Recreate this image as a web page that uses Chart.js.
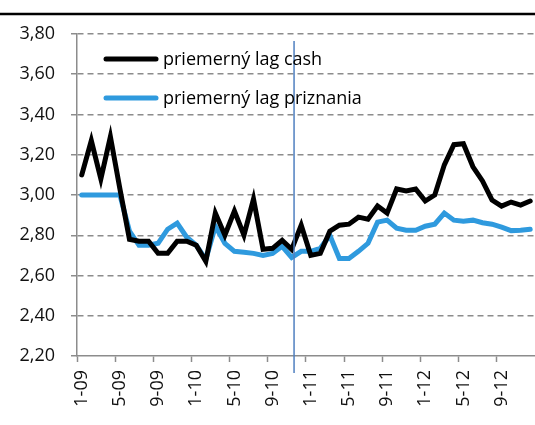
<!DOCTYPE html>
<html>
<head>
<meta charset="utf-8">
<script src="https://cdn.jsdelivr.net/npm/chart.js@4.4.1/dist/chart.umd.min.js"></script>
<style>
  html, body { margin: 0; padding: 0; background: #fff; overflow: hidden; }
  #wrap { width: 535px; height: 425px; overflow: hidden; }
</style>
</head>
<body>
<div id="wrap"><canvas id="lagChart" width="560" height="425"></canvas></div>
<script>
// months 1-09 .. 12-12
const months = [];
for (let y = 9; y <= 12; y++) {
    for (let m = 1; m <= 12; m++) months.push(m + '-' + String(y).padStart(2, '0'));
}

const lagCash = [
    3.10, 3.27, 3.08, 3.29, 3.03, 2.78, 2.77, 2.77, 2.71, 2.71,
    2.77, 2.77, 2.75, 2.67, 2.91, 2.80, 2.92, 2.80, 2.98, 2.73,
    2.735, 2.775, 2.73, 2.85, 2.70, 2.71, 2.82, 2.85, 2.855, 2.89,
    2.88, 2.945, 2.91, 3.03, 3.02, 3.03, 2.97, 3.00, 3.15, 3.25,
    3.255, 3.14, 3.07, 2.975, 2.945, 2.965, 2.95, 2.97
];

const lagPriznania = [
    3.00, 3.00, 3.00, 3.00, 3.00, 2.82, 2.75, 2.75, 2.76, 2.83,
    2.86, 2.79, 2.75, 2.68, 2.845, 2.76, 2.72, 2.715, 2.71, 2.70,
    2.71, 2.745, 2.69, 2.72, 2.72, 2.735, 2.80, 2.685, 2.685, 2.72,
    2.76, 2.865, 2.875, 2.835, 2.825, 2.825, 2.845, 2.855, 2.91, 2.875,
    2.87, 2.875, 2.862, 2.855, 2.84, 2.823, 2.825, 2.83
];

const seriesNames = ['priemerný lag cash', 'priemerný lag priznania'];
const seriesColors = ['#000000', '#2f9ade'];
const yTicks = [2.2, 2.4, 2.6, 2.8, 3.0, 3.2, 3.4, 3.6, 3.8];
const markerIndex = 22.25; // vertical marker between 11-10 and 12-10

const FONT = "'Open Sans', sans-serif";
const GRAY = '#8c8c8c';

const decor = {
    id: 'decor',
    afterDatasetsDraw(chart) {
        const ctx = chart.ctx;
        const x = chart.scales.x.getPixelForValue(markerIndex);
        ctx.save();
        ctx.strokeStyle = '#4f7fc0';
        ctx.lineWidth = 1.5;
        ctx.beginPath();
        ctx.moveTo(x, 41);
        ctx.lineTo(x, 373);
        ctx.stroke();

        // top rule
        ctx.strokeStyle = '#000';
        ctx.lineWidth = 2.5;
        ctx.beginPath();
        ctx.moveTo(0, 14);
        ctx.lineTo(chart.width, 14);
        ctx.stroke();

        // legend
        ctx.lineCap = 'round';
        ctx.font = '18px ' + FONT;
        ctx.textBaseline = 'middle';
        ctx.fillStyle = '#000';
        const rows = [59, 98];
        seriesNames.forEach((name, i) => {
            ctx.strokeStyle = seriesColors[i];
            ctx.lineWidth = 5;
            ctx.beginPath();
            ctx.moveTo(106, rows[i]);
            ctx.lineTo(156, rows[i]);
            ctx.stroke();
            ctx.fillText(name, 163, rows[i] + 1);
        });
        ctx.restore();
    }
};

new Chart(document.getElementById('lagChart'), {
    type: 'line',
    data: {
        labels: months,
        datasets: [
            { label: seriesNames[0], data: lagCash, borderColor: seriesColors[0] },
            { label: seriesNames[1], data: lagPriznania, borderColor: seriesColors[1] }
        ]
    },
    options: {
        responsive: false,
        animation: false,
        layout: { padding: { top: 34, left: 0, right: 20, bottom: 0 } },
        elements: {
            line: { borderWidth: 5, tension: 0, borderCapStyle: 'round', borderJoinStyle: 'miter' },
            point: { radius: 0 }
        },
        plugins: {
            legend: { display: false },
            tooltip: { enabled: false }
        },
        scales: {
            x: {
                type: 'category',
                offset: true,
                afterFit: (scale) => { scale.height = 69; },
                border: { display: true, color: GRAY, width: 1.5 },
                grid: {
                    offset: true,
                    drawOnChartArea: false,
                    drawTicks: true,
                    tickLength: 6,
                    tickWidth: 1.5,
                    tickColor: (c) => (c.index % 4 === 0 ? GRAY : 'rgba(0,0,0,0)')
                },
                ticks: {
                    autoSkip: false,
                    minRotation: 90,
                    maxRotation: 90,
                    padding: 8,
                    labelOffset: 0,
                    color: '#111',
                    font: { family: FONT, size: 18 },
                    callback: function (value, index) {
                        return index % 4 === 0 ? months[index] : '';
                    }
                }
            },
            y: {
                min: 2.2,
                max: 3.8,
                afterFit: (scale) => { scale.width = 77; },
                afterBuildTicks: (scale) => { scale.ticks = yTicks.map(v => ({ value: v })); },
                border: { display: true, color: GRAY, width: 1.5, dash: [6, 4] },
                grid: {
                    color: (c) => (c.tick && Math.abs(c.tick.value - 2.2) < 1e-6 ? 'rgba(0,0,0,0)' : GRAY),
                    lineWidth: 1.5,
                    tickLength: 6,
                    tickColor: GRAY,
                    tickBorderDash: [6, 4]
                },
                ticks: {
                    padding: 16,
                    color: '#111',
                    font: { family: FONT, size: 18 },
                    callback: (v) => v.toFixed(2).replace('.', ',')
                }
            }
        }
    },
    plugins: [decor]
});
</script>
</body>
</html>
